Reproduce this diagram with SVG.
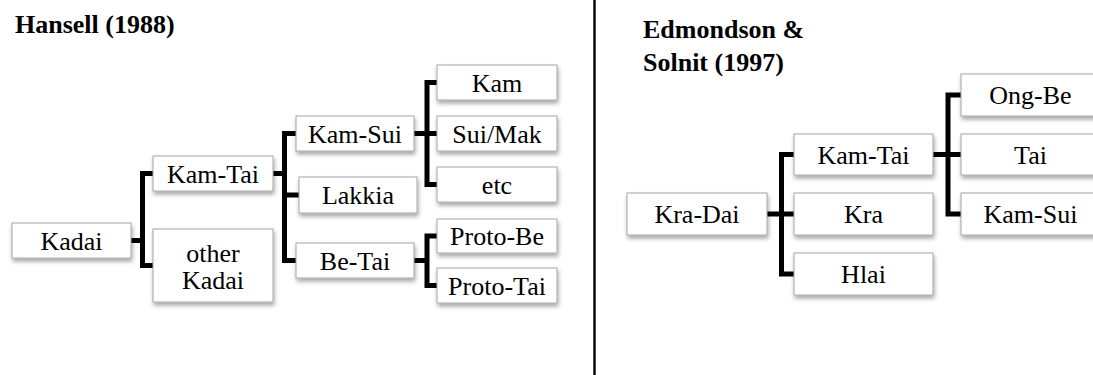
<svg xmlns="http://www.w3.org/2000/svg" width="1093" height="375" viewBox="0 0 1093 375">
<defs>
<filter id="sh" x="-10%" y="-20%" width="130%" height="160%">
<feDropShadow dx="1" dy="3" stdDeviation="2" flood-color="#000" flood-opacity="0.35"/>
</filter>
</defs>
<style>
.box{fill:#fff;stroke:#a6a6a6;stroke-width:1;filter:url(#sh)}
.t{font-size:26px;text-anchor:middle;fill:#000}
.h{font-size:26px;font-weight:bold;fill:#000}
.c{fill:none;stroke:#000;stroke-width:5;stroke-linejoin:miter;stroke-linecap:butt}
</style>
<rect width="1093" height="375" fill="#fff"/>
<line x1="594.5" y1="0" x2="594.5" y2="375" stroke="#000" stroke-width="2.4"/>
<g font-family="Liberation Serif, DejaVu Serif, serif">
<text class="h" x="15" y="33">Hansell (1988)</text>
<text class="h" x="643" y="38">Edmondson &amp;</text>
<text class="h" x="643" y="71">Solnit (1997)</text>
</g>
<g id="connectors">
<path class="c" d="M131,240.5 H142.5 M153,173.5 H142.5 V265.5 H153"/>
<path class="c" d="M273,173.5 H284.5 M296,133.5 H284.5 V260.5 H296 M284.5,195 H299"/>
<path class="c" d="M414,133.5 H437 M437,82.5 H427 V184.5 H437"/>
<path class="c" d="M414,260.5 H427 M437,236 H427 V285.5 H437"/>
<path class="c" d="M767,214 H794 M794,154.5 H781.5 V274 H794"/>
<path class="c" d="M933,154.5 H961 M961,95 H948 V214 H961"/>
</g>
<g font-family="Liberation Serif, DejaVu Serif, serif">
<g id="kadai"><rect class="box" x="12" y="223" width="119" height="35"/><text class="t" x="71.5" y="249.5">Kadai</text></g>
<g id="kamtai1"><rect class="box" x="153" y="156" width="120" height="35"/><text class="t" x="213" y="182.5">Kam-Tai</text></g>
<g id="otherkadai"><rect class="box" x="153" y="229" width="120" height="73"/><text class="t" x="213" y="261.5">other</text><text class="t" x="213" y="288.5">Kadai</text></g>
<g id="kamsui1"><rect class="box" x="296" y="116" width="118" height="35"/><text class="t" x="355" y="142.5">Kam-Sui</text></g>
<g id="lakkia"><rect class="box" x="299" y="177" width="118" height="36"/><text class="t" x="358" y="204">Lakkia</text></g>
<g id="betai"><rect class="box" x="296" y="243" width="118" height="35"/><text class="t" x="355" y="269.5">Be-Tai</text></g>
<g id="kam"><rect class="box" x="437" y="65" width="120" height="35"/><text class="t" x="497" y="91.5">Kam</text></g>
<g id="suimak"><rect class="box" x="437" y="116" width="120" height="35"/><text class="t" x="497" y="142.5">Sui/Mak</text></g>
<g id="etc"><rect class="box" x="437" y="167" width="120" height="35"/><text class="t" x="497" y="193.5">etc</text></g>
<g id="protobe"><rect class="box" x="437" y="219" width="120" height="34"/><text class="t" x="497" y="245">Proto-Be</text></g>
<g id="prototai"><rect class="box" x="437" y="268" width="120" height="35"/><text class="t" x="497" y="294.5">Proto-Tai</text></g>
<g id="kradai"><rect class="box" x="627" y="193" width="140" height="42"/><text class="t" x="697" y="223">Kra-Dai</text></g>
<g id="kamtai2"><rect class="box" x="794" y="134" width="139" height="41"/><text class="t" x="863.5" y="163.5">Kam-Tai</text></g>
<g id="kra"><rect class="box" x="794" y="193" width="139" height="42"/><text class="t" x="863.5" y="223">Kra</text></g>
<g id="hlai"><rect class="box" x="794" y="253" width="139" height="42"/><text class="t" x="863.5" y="283">Hlai</text></g>
<g id="ongbe"><rect class="box" x="961" y="74" width="139" height="42"/><text class="t" x="1030.5" y="104">Ong-Be</text></g>
<g id="tai"><rect class="box" x="961" y="134" width="139" height="41"/><text class="t" x="1030.5" y="163.5">Tai</text></g>
<g id="kamsui2"><rect class="box" x="961" y="193" width="139" height="42"/><text class="t" x="1030.5" y="223">Kam-Sui</text></g>
</g>
</svg>
